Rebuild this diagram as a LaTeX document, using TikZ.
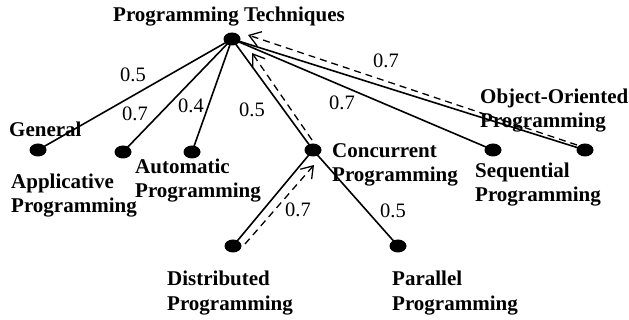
\documentclass[tikz,border=0pt]{standalone}
\usepackage{fontspec}
\setmainfont{Liberation Serif}
\usetikzlibrary{shapes.geometric,arrows.meta,calc}
\begin{document}
\begin{tikzpicture}[x=1pt,y=-1pt,
  dot/.style={ellipse,fill=black,inner sep=0pt,minimum width=17pt,minimum height=13pt},
  % multi-line names are placed by the baseline of their last line
  term/.style={anchor=base west,inner sep=0pt,align=left,
    font=\fontsize{21}{24.6}\selectfont\bfseries},
  weight/.style={inner sep=0pt,font=\fontsize{20.5}{24}\selectfont},
  link/.style={line width=1.6pt},
  trace/.style={line width=1.3pt,dash pattern=on 7pt off 5pt,
    -{Straight Barb[length=11pt,width=15pt,line width=1.3pt]}}]
\useasboundingbox (0,0) rectangle (629,320);

% concept nodes
\node[dot] (root) at (232,39) {};
\node[dot] (gen)  at (38,150) {};
\node[dot] (app)  at (123,152) {};
\node[dot] (auto) at (192,152) {};
\node[dot] (conc) at (313,150) {};
\node[dot] (seq)  at (493,150) {};
\node[dot] (oo)   at (585,150) {};
\node[dot] (dist) at (233,246) {};
\node[dot] (par)  at (398,246) {};

% concept names
\node[term] (troot) at (113,22)  {Programming Techniques};
\node[term] (tgen)  at (9,137)   {General};
\node[term] (tapp)  at (11,213)  {Applicative\\Programming};
\node[term] (tauto) at (135,198) {Automatic\\Programming};
\node[term] (tconc) at (332,182) {Concurrent\\Programming};
\node[term] (tseq)  at (475,202) {Sequential\\Programming};
\node[term] (too)   at (480,128) {Object-Oriented\\Programming};
\node[term] (tdist) at (167,310) {Distributed\\Programming};
\node[term] (tpar)  at (392,310) {Parallel\\Programming};

% hierarchy links
\foreach \c in {gen,app,auto,conc,seq,oo}
  \draw[link] (root.center) -- (\c.center);
\draw[link] (conc.center) -- (dist.center);
\draw[link] (conc.center) -- (par.center);

% propagation paths
\draw[trace] ($(oo)+(-8,-5)$) -- ($(root)+(16,-4)$);
\draw[trace] ($(conc)+(-1,-10)$) -- ($(root)+(20,14)$);
\draw[trace] ($(dist)+(12,-2)$) -- ($(conc)+(1,15)$);

% link weights
\node[weight] (w1) at (133,75)  {0.5};
\node[weight] (w2) at (135,114) {0.7};
\node[weight] (w3) at (191,106) {0.4};
\node[weight] (w4) at (252,110) {0.5};
\node[weight] (w5) at (342,103) {0.7};
\node[weight] (w6) at (386,61)  {0.7};
\node[weight] (w7) at (298,210) {0.7};
\node[weight] (w8) at (393,211) {0.5};
\end{tikzpicture}
\end{document}
